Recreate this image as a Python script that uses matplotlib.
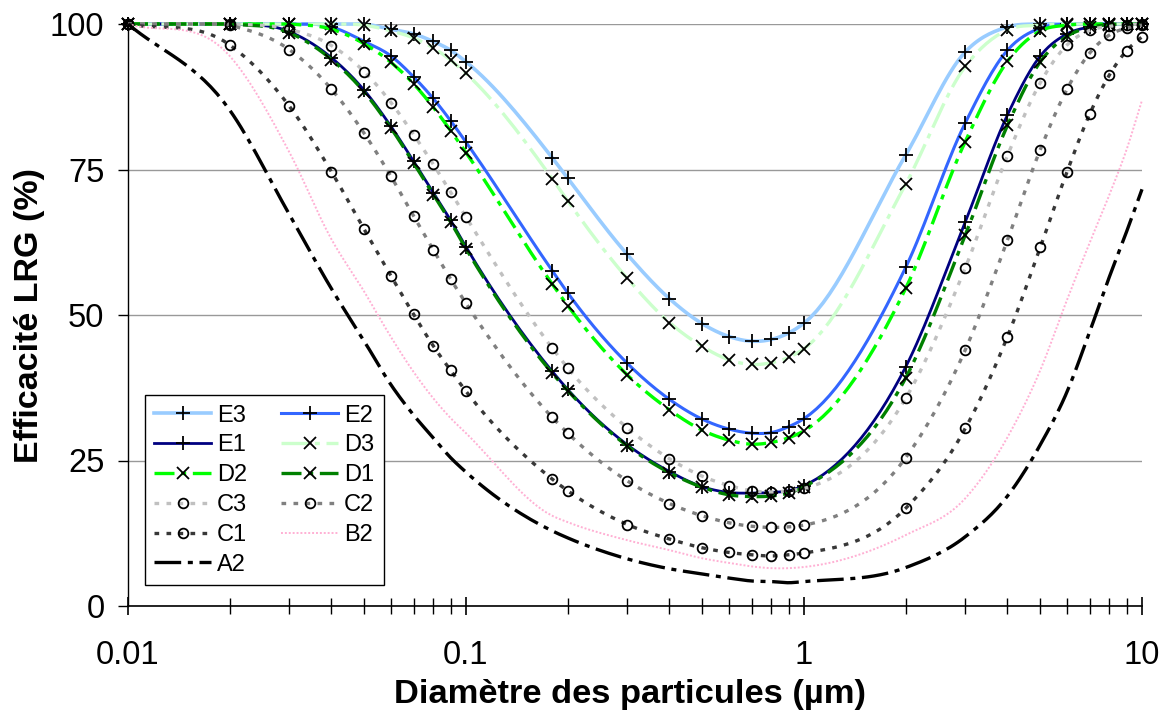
import matplotlib
matplotlib.use("Agg")
import matplotlib.pyplot as plt
from matplotlib.lines import Line2D
import numpy as np

plt.rcParams['font.family'] = ['Liberation Sans', 'DejaVu Sans']

# particle diameter (µm)
diam = [0.01, 0.02, 0.03, 0.04, 0.05, 0.06, 0.07, 0.08, 0.09, 0.1,
        0.18, 0.2, 0.3, 0.4, 0.5, 0.6, 0.7, 0.8, 0.9, 1,
        2, 3, 4, 5, 6, 7, 8, 9, 10]

# efficiency (%) per configuration
E3 = [100, 100, 100, 100, 100, 99.1, 98.3, 97.0, 95.5, 93.5,
      77.0, 73.5, 60.4, 52.8, 48.5, 46.3, 45.5, 45.8, 46.9, 48.6,
      77.5, 95.2, 99.5, 100, 100, 100, 100, 100, 100]
E2 = [100, 100, 100, 99.5, 97.0, 94.5, 90.9, 87.2, 83.4, 79.7,
      57.6, 53.8, 41.7, 35.5, 32.1, 30.4, 29.7, 29.8, 30.8, 32.2,
      58.2, 83.0, 95.5, 99.3, 100, 100, 100, 100, 100]
E1 = [100, 100, 98.7, 94.2, 88.6, 82.4, 76.4, 71.0, 66.3, 61.7,
      40.3, 37.2, 27.7, 23.1, 20.5, 19.5, 19.4, 19.5, 19.8, 20.7,
      41.1, 66.0, 84.4, 94.5, 98.3, 99.5, 100, 100, 100]
D3 = [100, 100, 100, 100, 99.8, 98.8, 97.6, 95.9, 93.8, 91.5,
      73.4, 69.6, 56.3, 48.7, 44.6, 42.3, 41.5, 41.8, 42.7, 44.2,
      72.5, 92.7, 99.0, 99.8, 100, 100, 100, 100, 100]
D2 = [100, 100, 100, 99.1, 96.6, 93.4, 89.7, 85.7, 81.7, 77.9,
      55.3, 51.6, 39.7, 33.7, 30.2, 28.5, 27.8, 28.1, 28.9, 30.1,
      54.6, 79.8, 93.6, 98.8, 99.8, 100, 100, 100, 100]
D1 = [100, 100, 98.5, 93.9, 88.3, 82.1, 76.1, 70.7, 66.0, 61.4,
      40.0, 37.0, 27.5, 22.9, 20.4, 19.1, 18.8, 18.9, 19.4, 20.5,
      39.2, 63.7, 82.6, 93.5, 97.9, 99.4, 99.9, 100, 100]
C3 = [100, 100, 99.1, 96.3, 91.8, 86.5, 81.0, 75.9, 71.1, 66.8,
      44.3, 40.9, 30.6, 25.3, 22.3, 20.7, 19.8, 19.6, 19.8, 20.2,
      35.7, 58.1, 77.4, 89.9, 96.4, 98.9, 99.6, 99.9, 100]
C2 = [100, 99.8, 95.6, 88.8, 81.2, 73.8, 67.0, 61.2, 56.2, 52.0,
      32.4, 29.7, 21.5, 17.6, 15.5, 14.3, 13.7, 13.5, 13.6, 13.9,
      25.5, 44.0, 62.9, 78.4, 88.8, 95.0, 98.1, 99.3, 99.8]
C1 = [100, 96.4, 85.9, 74.6, 64.7, 56.7, 50.1, 44.7, 40.5, 36.9,
      21.8, 19.8, 14.0, 11.5, 10.0, 9.2, 8.8, 8.6, 8.8, 9.1,
      16.8, 30.5, 46.3, 61.6, 74.6, 84.5, 91.2, 95.4, 97.8]
B2 = [100, 94.5, 78.0, 63.0, 54.0, 46.2, 40.2, 35.7, 32.3, 29.7,
      15.5, 14.4, 11.3, 9.6, 8.2, 7.4, 6.8, 6.5, 6.5, 6.7,
      12.2, 18.5, 29.0, 40.5, 52.6, 62.4, 70.6, 78.4, 86.9]
A2 = [100, 85.2, 67.3, 54.5, 45.5, 38.0, 32.8, 28.9, 25.5, 23.0,
      12.9, 11.7, 8.1, 6.4, 5.5, 4.8, 4.3, 4.2, 4.0, 4.2,
      6.6, 11.9, 18.9, 27.7, 36.8, 47.1, 56.5, 64.3, 71.6]


def smooth(x, y, n=16):
    """smoothed line like Excel's: cubic Hermite in log-x"""
    lx = np.log10(np.asarray(x, float))
    yy = np.asarray(y, float)
    m = np.gradient(yy, lx)
    t = np.linspace(0, 1, n, endpoint=False)
    h00 = 2 * t**3 - 3 * t**2 + 1
    h10 = t**3 - 2 * t**2 + t
    h01 = -2 * t**3 + 3 * t**2
    h11 = t**3 - t**2
    outx, outy = [], []
    for i in range(len(lx) - 1):
        h = lx[i + 1] - lx[i]
        outx.append(lx[i] + t * h)
        outy.append(h00 * yy[i] + h10 * h * m[i] + h01 * yy[i + 1] + h11 * h * m[i + 1])
    outx.append([lx[-1]])
    outy.append([yy[-1]])
    return 10 ** np.concatenate(outx), np.clip(np.concatenate(outy), 0, 100)


dash_dot = (6, 2, 1.5, 2)
long_dash_dot = (8, 2, 1.5, 2)
sq_dot = (1.4, 2.2)

# name, values, colour, dashes, marker, linewidth
series = [
    ("E3", E3, "#99CCFF", None, "+", 2.6),
    ("E2", E2, "#3366FF", None, "+", 2.2),
    ("E1", E1, "#000080", None, "+", 2.0),
    ("D3", D3, "#CCFFCC", long_dash_dot, "x", 2.4),
    ("D2", D2, "#00FF00", dash_dot, "x", 2.4),
    ("D1", D1, "#008000", dash_dot, "x", 2.4),
    ("C3", C3, "#C0C0C0", sq_dot, "o", 2.4),
    ("C2", C2, "#808080", sq_dot, "o", 2.4),
    ("C1", C1, "#383838", sq_dot, "o", 2.4),
    ("B2", B2, "#FFB0D4", (1, 1), None, 1.4),
    ("A2", A2, "#000000", long_dash_dot, None, 2.4),
]

fig = plt.figure(figsize=(11.68, 7.15), dpi=100)
ax = fig.add_axes([128 / 1168, 1 - 606 / 715, 1014 / 1168, 582 / 715])

handles = {}
for name, vals, col, dashes, mk, lw in series:
    lkw = dict(color=col, lw=lw)
    if dashes is not None:
        lkw["dashes"] = dashes
    mkw = {}
    if mk == "+":
        mkw = dict(marker="+", ms=10, mec="black", mew=1.3)
    elif mk == "x":
        mkw = dict(marker="x", ms=8, mec="black", mew=1.3)
    elif mk == "o":
        mkw = dict(marker="o", ms=7, mec="black", mfc="none", mew=1.3)
    sx, sy = smooth(diam, vals)
    ax.plot(sx, sy, clip_on=False, **lkw)
    if mkw:
        ax.plot(diam, vals, ls="none", clip_on=False, **mkw)
    handles[name] = Line2D([], [], **lkw, **mkw)

ax.set_xscale("log")
ax.set_xlim(0.01, 10)
ax.set_ylim(0, 100)
ax.set_yticks([0, 25, 50, 75, 100])
ax.set_xticks([0.01, 0.1, 1, 10])
ax.set_xticklabels(["0.01", "0.1", "1", "10"])
ax.yaxis.grid(True, color="#999999", lw=1)
ax.set_axisbelow(True)
for s in ("top", "right"):
    ax.spines[s].set_visible(False)
ax.spines["left"].set_linewidth(1)
ax.spines["bottom"].set_linewidth(1.2)

ax.tick_params(axis="y", direction="out", length=7, width=1, labelsize=23.5, pad=10)
ax.tick_params(axis="x", which="major", direction="inout", length=13, width=1.2,
               labelsize=23.5, pad=18)
ax.tick_params(axis="x", which="minor", direction="inout", length=11, width=1)

fig.text(30 / 1168, 1 - 315 / 715, "Efficacité LRG (%)", rotation=90,
         ha="center", va="center", fontsize=24.5, fontweight="bold")
fig.text(630 / 1168, 1 - 694 / 715, "Diamètre des particules (µm)",
         ha="center", va="center", fontsize=24.8, fontweight="bold")

order = ["E3", "E1", "D2", "C3", "C1", "A2", "E2", "D3", "D1", "C2", "B2"]
leg = ax.legend([handles[n] for n in order], order, ncol=2, loc="lower left",
                bbox_to_anchor=(17 / 1014, 21 / 582), borderaxespad=0,
                fontsize=17, frameon=True, fancybox=False, framealpha=1,
                edgecolor="black", handlelength=2.4, handletextpad=0.25,
                columnspacing=1.45, labelspacing=0.33, borderpad=0.4,
                numpoints=1)
leg.get_frame().set_linewidth(1)

fig.savefig("out.png", dpi=100)
